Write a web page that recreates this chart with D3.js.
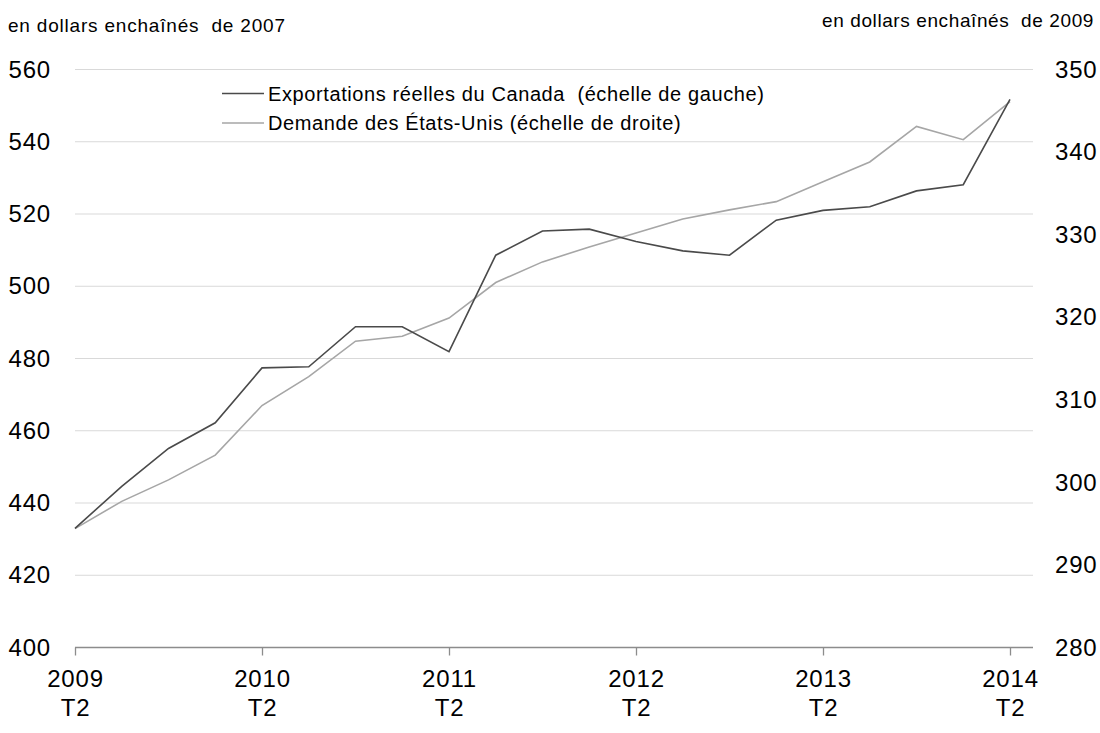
<!DOCTYPE html>
<html>
<head>
<meta charset="utf-8">
<script src="https://cdn.jsdelivr.net/npm/d3@7"></script>
<style>
  body { margin: 0; background: #fff; }
  svg { font-family: "Liberation Sans", Arial, sans-serif; }
</style>
</head>
<body>
<svg id="chart" width="1100" height="733"></svg>
<script>
// quarters from 2009 T2 to 2014 T2
const quarters = ['2009T2','2009T3','2009T4','2010T1','2010T2','2010T3','2010T4','2011T1','2011T2','2011T3','2011T4','2012T1','2012T2','2012T3','2012T4','2013T1','2013T2','2013T3','2013T4','2014T1','2014T2'];
// Canada real exports, chained 2007 dollars (left scale)
const exportsCanada = [433.0, 444.6, 455.1, 462.2, 477.4, 477.7, 488.8, 488.8, 481.9, 508.6, 515.3, 515.8, 512.4, 509.8, 508.6, 518.3, 521.0, 522.0, 526.4, 528.1, 551.7];
// US demand, chained 2009 dollars (right scale)
const demandUS = [294.4, 297.7, 300.3, 303.3, 309.3, 312.8, 317.1, 317.7, 319.9, 324.2, 326.7, 328.5, 330.2, 331.9, 333.0, 334.0, 336.4, 338.8, 343.1, 341.5, 346.1];
const leftTicks = [400, 420, 440, 460, 480, 500, 520, 540, 560];
const rightTicks = [280, 290, 300, 310, 320, 330, 340, 350];
const yearTicks = ['2009T2', '2010T2', '2011T2', '2012T2', '2013T2', '2014T2'];

const svg = d3.select('#chart');
const plotLeft = 75, plotRight = 1033, plotTop = 69.5, plotBottom = 647.5;

const x = d3.scalePoint().domain(quarters).range([75, 1010]); // each quarter
const yLeft = d3.scaleLinear().domain([400, 560]).range([plotBottom, plotTop]);
const yRight = d3.scaleLinear().domain([280, 350]).range([plotBottom, plotTop]);

// horizontal gridlines
svg.append('g').selectAll('line')
    .data(leftTicks.slice(1))
    .enter().append('line')
    .attr('x1', plotLeft).attr('x2', plotRight)
    .attr('y1', d => yLeft(d)).attr('y2', d => yLeft(d))
    .attr('stroke', '#d9d9d9').attr('stroke-width', 1.2);

// left axis labels
const leftAxis = d3.axisLeft(yLeft).tickValues(leftTicks).tickSize(0).tickPadding(0);
svg.append('g')
    .attr('transform', 'translate(51,0)')
    .call(leftAxis)
    .call(g => g.select('.domain').remove())
    .selectAll('text').attr('font-size', 24).attr('letter-spacing', 0.8).attr('fill', '#000')
    .attr('font-family', 'Liberation Sans, Arial, sans-serif');

// right axis labels
const rightAxis = d3.axisRight(yRight).tickValues(rightTicks).tickSize(0).tickPadding(0);
svg.append('g')
    .attr('transform', 'translate(1055,0)')
    .call(rightAxis)
    .call(g => g.select('.domain').remove())
    .selectAll('text').attr('font-size', 24).attr('letter-spacing', 0.8).attr('fill', '#000')
    .attr('font-family', 'Liberation Sans, Arial, sans-serif');

// bottom axis
svg.append('line')
    .attr('x1', plotLeft).attr('x2', plotRight)
    .attr('y1', plotBottom).attr('y2', plotBottom)
    .attr('stroke', '#8c8c8c').attr('stroke-width', 1.3);

const bottomAxis = d3.axisBottom(x).tickValues(yearTicks).tickSize(8).tickFormat('');
const xg = svg.append('g')
    .attr('transform', `translate(0,${plotBottom})`)
    .call(bottomAxis)
    .call(g => g.select('.domain').remove());
xg.selectAll('.tick line').attr('stroke', '#8c8c8c').attr('stroke-width', 1.3);
xg.selectAll('.tick').append('text')
    .attr('y', 39.5).attr('text-anchor', 'middle')
    .attr('font-size', 24).attr('letter-spacing', 0.8).attr('fill', '#000')
    .text(d => d.slice(0, 4));
xg.selectAll('.tick').append('text')
    .attr('y', 68.5).attr('text-anchor', 'middle')
    .attr('font-size', 24).attr('letter-spacing', 0.8).attr('fill', '#000')
    .text(d => d.slice(4));

// lines
const lineLeft = d3.line().x((d, i) => x(quarters[i])).y(d => yLeft(d));
const lineRight = d3.line().x((d, i) => x(quarters[i])).y(d => yRight(d));

svg.append('path')
    .datum(demandUS)
    .attr('d', lineRight)
    .attr('fill', 'none').attr('stroke', '#a6a6a6').attr('stroke-width', 1.6);

svg.append('path')
    .datum(exportsCanada)
    .attr('d', lineLeft)
    .attr('fill', 'none').attr('stroke', '#4a4a4a').attr('stroke-width', 1.6);

// axis titles
svg.append('text').attr('x', 8).attr('y', 32).attr('font-size', 19).attr('letter-spacing', 0.8)
    .attr('xml:space', 'preserve')
    .text('en dollars enchaînés  de 2007');
svg.append('text').attr('x', 1094).attr('y', 27).attr('font-size', 19).attr('letter-spacing', 0.6)
    .attr('text-anchor', 'end').attr('xml:space', 'preserve')
    .text('en dollars enchaînés  de 2009');

// legend
const legendItems = [
    { label: 'Exportations réelles du Canada  (échelle de gauche)', color: '#4a4a4a' },
    { label: 'Demande des États-Unis (échelle de droite)', color: '#a6a6a6' }
];
const legend = svg.append('g').attr('transform', 'translate(222,93.5)');
legend.selectAll('line')
    .data(legendItems)
    .enter().append('line')
    .attr('x1', 0).attr('x2', 42)
    .attr('y1', (d, i) => i * 29.5).attr('y2', (d, i) => i * 29.5)
    .attr('stroke', d => d.color).attr('stroke-width', 1.6);
legend.selectAll('text')
    .data(legendItems)
    .enter().append('text')
    .attr('x', 46).attr('y', (d, i) => i * 29.5 + 7)
    .attr('font-size', 20).attr('letter-spacing', 0.6).attr('fill', '#000')
    .attr('xml:space', 'preserve')
    .text(d => d.label);
</script>
</body>
</html>
